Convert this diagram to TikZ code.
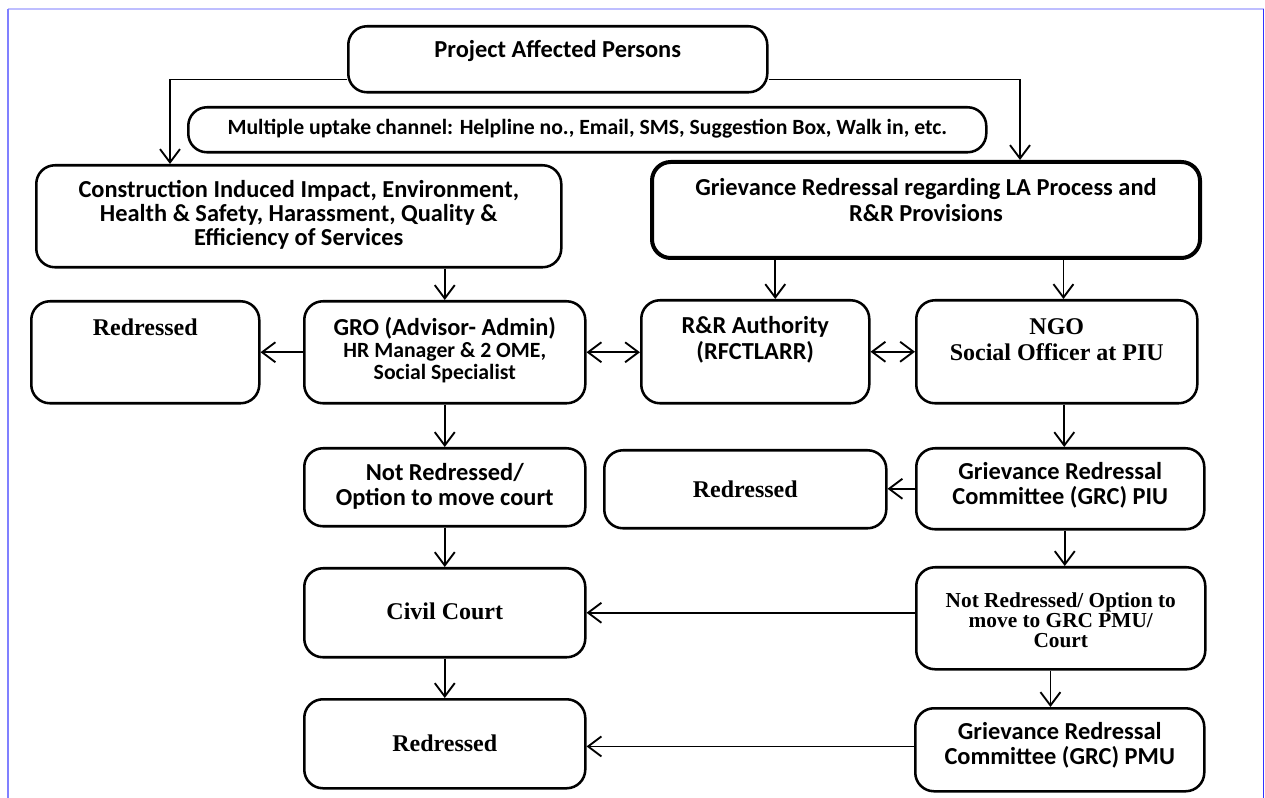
\documentclass[tikz,border=0pt]{standalone}
\usepackage{fontspec}
\setmainfont{Liberation Serif}
\newfontfamily\calib{Carlito}
\usetikzlibrary{arrows.meta}
\definecolor{frameL}{RGB}{128,128,255}
\definecolor{frameT}{RGB}{190,190,255}
\definecolor{frameR}{RGB}{50,50,255}
\newcommand\bxt[4]{\parbox[t][\dimexpr0.75pt*#2\relax][t]{\dimexpr0.75pt*#1\relax}{\centering\vspace*{\dimexpr0.75pt*#3\relax}#4\par}}
\newcommand\sfA{\calib\bfseries\fontsize{18.3}{18}\selectfont}
\newcommand\sfB{\calib\bfseries\fontsize{16.3}{16.5}\selectfont}
\newcommand\rmA{\rmfamily\bfseries\fontsize{18}{19.5}\selectfont}
\newcommand\rmB{\rmfamily\bfseries\fontsize{16}{15}\selectfont}
\tikzset{
  bx/.style={draw, line width=1.9pt, rounded corners=14pt, inner sep=0pt, anchor=north west},
  bxthick/.style={bx, line width=3pt},
  arr/.style={line width=1.4pt, -{Straight Barb[length=10pt,width=15pt]}},
  darr/.style={line width=1.4pt, {Straight Barb[length=10pt,width=15pt]}-{Straight Barb[length=10pt,width=15pt]}},
}
\begin{document}
\begin{tikzpicture}[x=0.75pt,y=-0.75pt]
\useasboundingbox (0,0) rectangle (1265,798);
\draw[frameT, line width=1.5pt] (8,9) -- (1264,9);
\draw[frameL, line width=1.1pt] (8,9) -- (8,798);
\draw[frameR, line width=1.2pt] (1263.5,9) -- (1263.5,798);

\node[bx] (pap) at (347,25) {\bxt{419}{66}{14}{\sfA Project Affected Persons}};
\node[bx] (multi) at (187,106) {\bxt{798}{45}{12}{\sfB Multiple uptake channel: Helpline no., Email, SMS, Suggestion Box, Walk in, etc.}};
\node[bx] (cons) at (35,164) {\bxt{525}{102}{15}{\sfA Construction Induced Impact, Environment,\\ Health \& Safety, Harassment, Quality \&\\ Efficiency of Services}};
\node[bxthick] (grla) at (650,160) {\bxt{548}{96}{16}{\sfA\baselineskip=19.5pt Grievance Redressal regarding LA Process and\\ R\&R Provisions}};

\node[bx] (red1) at (30,300) {\bxt{228}{102}{18}{\rmA Redressed}};
\node[bx] (gro) at (303,300) {\bxt{281}{102}{16}{\sfA GRO (Advisor- Admin)\par\sfB HR Manager \& 2 OME,\\ Social Specialist}};
\node[bx] (rra) at (640,299) {\bxt{228}{103}{16}{\sfA\baselineskip=19.5pt R\&R Authority\\ (RFCTLARR)}};
\node[bx] (ngo) at (915,299) {\bxt{281}{103}{18}{\rmA NGO\\ Social Officer at PIU}};

\node[bx] (nr1) at (303,447) {\bxt{281}{78}{15}{\sfA\baselineskip=18.75pt Not Redressed/\\ Option to move court}};
\node[bx] (red2) at (603,449) {\bxt{282}{78}{31}{\rmA Redressed}};
\node[bx] (grcpiu) at (915,447) {\bxt{288}{81}{14}{\sfA\baselineskip=18.75pt Grievance Redressal\\ Committee (GRC) PIU}};

\node[bx] (civil) at (303,567) {\bxt{281}{89}{35}{\rmA Civil Court}};
\node[bx] (nr2) at (915,566) {\bxt{289}{102}{25}{\rmB Not Redressed/ Option to\\ move to GRC PMU/\\ Court}};

\node[bx] (red3) at (303,698) {\bxt{281}{89}{36}{\rmA Redressed}};
\node[bx] (grcpmu) at (914,707) {\bxt{289}{83}{14}{\sfA\baselineskip=18.75pt Grievance Redressal\\ Committee (GRC) PMU}};

% connectors
\draw[arr] ([yshift=10.5pt]pap.south west) -| ([xshift=101.25pt]cons.north west);
\draw[arr] ([yshift=10.5pt]pap.south east) -| ([xshift=277.5pt]grla.north west);
\draw[arr] (cons.south -| gro.north) -- (gro.north);
\coordinate (a1) at ([xshift=15pt]rra.north);
\draw[arr] (grla.south -| a1) -- (a1);
\coordinate (a2) at ([xshift=5pt]ngo.north);
\draw[arr] (grla.south -| a2) -- (a2);
\draw[arr] (gro.west) -- (red1.east |- gro.west);
\draw[darr] (gro.east) -- (rra.west |- gro.east);
\draw[darr] (rra.east) -- (ngo.west |- rra.east);
\draw[arr] (gro.south) -- (nr1.north);
\coordinate (a3) at ([xshift=3pt]grcpiu.north);
\draw[arr] (ngo.south -| a3) -- (a3);
\draw[arr] (grcpiu.west) -- (red2.east |- grcpiu.west);
\draw[arr] (nr1.south) -- (civil.north);
\coordinate (a4) at ([xshift=3pt]nr2.north);
\draw[arr] (grcpiu.south -| a4) -- (a4);
\draw[arr] (nr2.west |- civil.east) -- (civil.east);
\draw[arr] (civil.south) -- (red3.north);
\coordinate (a5) at ([xshift=-7pt]grcpmu.north);
\draw[arr] (nr2.south -| a5) -- (a5);
\coordinate (a6) at ([yshift=-2pt]red3.east);
\draw[arr] (grcpmu.west |- a6) -- (a6);
\end{tikzpicture}
\end{document}
